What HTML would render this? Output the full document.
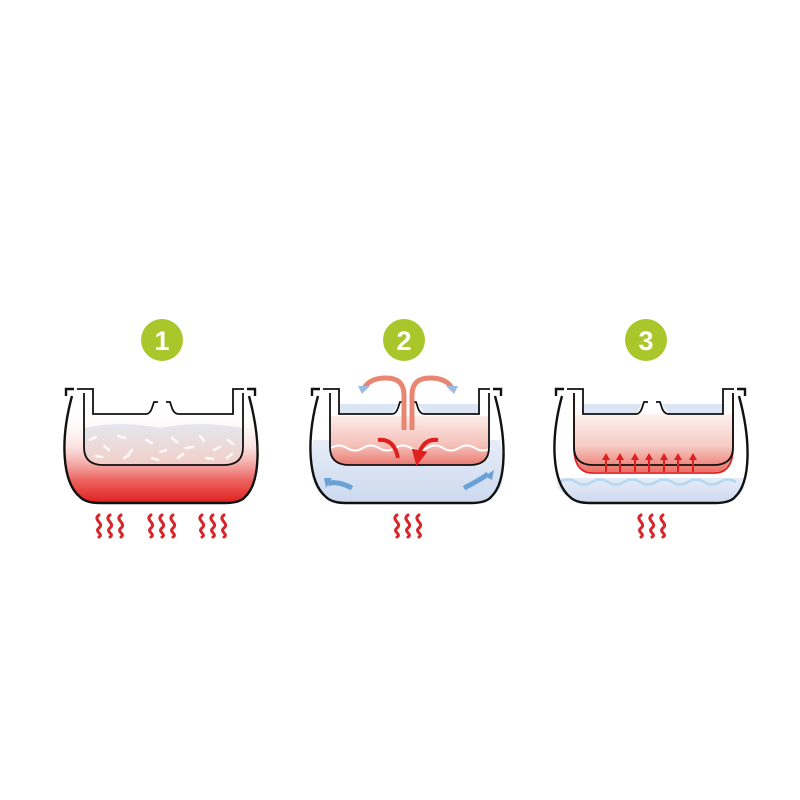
<!DOCTYPE html>
<html><head><meta charset="utf-8"><style>html,body{margin:0;padding:0;background:#fff}svg{display:block}</style></head>
<body>
<svg width="800" height="800" viewBox="0 0 800 800" xmlns="http://www.w3.org/2000/svg">
<defs>
<linearGradient id="heat1" x1="0" y1="0" x2="0" y2="1">
<stop offset="0" stop-color="#fff" stop-opacity="0"/>
<stop offset="0.4" stop-color="#f8d4d2" stop-opacity="0.7"/>
<stop offset="0.75" stop-color="#ec6560"/>
<stop offset="1" stop-color="#e0201f"/>
</linearGradient>
<linearGradient id="rice1" x1="0" y1="0" x2="0" y2="1">
<stop offset="0" stop-color="#e4e7f0"/>
<stop offset="1" stop-color="#f2cfc8"/>
</linearGradient>
<linearGradient id="riceRed" x1="0" y1="0" x2="0" y2="1">
<stop offset="0" stop-color="#fcece8"/>
<stop offset="0.6" stop-color="#f4c0b8"/>
<stop offset="1" stop-color="#ea7a72"/>
</linearGradient>
<linearGradient id="riceRed3" x1="0" y1="0" x2="0" y2="1">
<stop offset="0" stop-color="#fdf2f0"/>
<stop offset="0.55" stop-color="#f6cbc4"/>
<stop offset="1" stop-color="#ec6f66"/>
</linearGradient>
<linearGradient id="blue" x1="0" y1="0" x2="0" y2="1">
<stop offset="0" stop-color="#e6edf8"/>
<stop offset="1" stop-color="#ccd9ef"/>
</linearGradient>
<g id="pot">
<path d="M66,396 L66,389 L74,389 M72,396 C60,440 62,482 80,497 Q86,503 100,503 L225,503 Q240,503 245,497 C261,482 261,440 249,396 M255,396 L255,389 L247,389" fill="none" stroke="#111" stroke-width="2.4"/>
<path d="M77,389 L93,389 L93,414 L146,414 Q150,414 152,408 L154,402 L158,402 M166,402 L170,402 L172,408 Q174,414 179,414 L233,414 L233,389 L244,389" fill="none" stroke="#111" stroke-width="1.8"/>
<path d="M84,393 L84,447 Q84,465 103,465 L224,465 Q243,465 243,447 L243,393" fill="none" stroke="#111" stroke-width="1.8"/>
</g>
<g id="waves" fill="none" stroke="#d6262a" stroke-width="3" stroke-linecap="round">
<path d="M2,515 c-7,5 6,8 0,13 c-5,4 5,6 0,9"/>
<path d="M13,515 c-7,5 6,8 0,13 c-5,4 5,6 0,9"/>
<path d="M24,515 c-7,5 6,8 0,13 c-5,4 5,6 0,9"/>
</g>
<marker id="ar" markerWidth="4" markerHeight="4" refX="2" refY="2" orient="auto"><path d="M0,0 L4,2 L0,4z" fill="#e0201f"/></marker>
</defs>

<g fill="#a9c72b"><circle cx="162" cy="340" r="21"/><circle cx="404" cy="340" r="21"/><circle cx="646" cy="340" r="21"/></g>
<g fill="#fff" font-family="Liberation Sans, sans-serif" font-weight="bold" font-size="27" text-anchor="middle">
<text x="162" y="350">1</text><text x="404" y="350">2</text><text x="646" y="350">3</text></g>

<!-- pot 1 -->
<path d="M68,410 C62,450 64,485 80,497 Q86,503 100,503 L225,503 Q240,503 245,497 C259,485 260,450 253,410 Z" fill="url(#heat1)"/>
<path d="M85,428 Q120,420 160,428 Q200,420 242,428 L242,447 Q242,464 224,464 L103,464 Q85,464 85,447Z" fill="url(#rice1)"/>
<path d="M90,440 l6,-3 M104,446 l5,4 M118,436 l7,2 M132,450 l-4,5 M146,440 l6,3 M160,452 l6,-2 M172,438 l5,4 M186,448 l7,-1 M200,436 l4,5 M214,450 l6,-3 M228,440 l5,4 M96,456 l6,1 M124,458 l5,-3 M152,458 l6,2 M178,458 l5,-4 M206,458 l7,1 M232,454 l-5,4" stroke="#fff" stroke-width="2.5" stroke-linecap="round" opacity="0.85"/>
<use href="#pot"/>
<use href="#waves" x="97"/><use href="#waves" x="149"/><use href="#waves" x="200"/>

<!-- pot 2 -->
<g transform="translate(246,0)">
<path d="M67,440 C62,470 66,490 80,497 Q86,503 100,503 L225,503 Q240,503 245,497 C259,490 260,470 254,440 Z" fill="url(#blue)"/>
<path d="M94,397 L94,414 L146,414 L152,404 L94,404Z M233,397 L233,414 L179,414 L172,404 L233,404Z" fill="#dce5f3"/>
<path d="M85,416 L242,416 L242,447 Q242,465 224,465 L103,465 Q85,465 85,447Z" fill="url(#riceRed)"/>
<path d="M85,448 q8,-5 16,0 t16,0 t16,0 t16,0 t16,0 t16,0 t16,0 t16,0 t16,0 t16,0" fill="none" stroke="#fff" stroke-width="2"/>
<use href="#pot"/>
<path d="M158,430 L158,395 Q158,378 140,378 Q124,378 118,388" fill="none" stroke="#e98672" stroke-width="5"/>
<path d="M166,430 L166,395 Q166,378 184,378 Q200,378 206,388" fill="none" stroke="#e98672" stroke-width="5"/>
<path d="M112,386 l12,0 l-8,8z M212,386 l-12,0 l8,8z" fill="#9dbbe0"/>
<path d="M132,440 Q148,438 152,458 M192,440 Q176,438 172,458" fill="none" stroke="#e0201f" stroke-width="4" marker-end="url(#ar)"/>
<path d="M106,488 Q90,480 82,484 M218,488 Q234,480 242,474" fill="none" stroke="#6aa2d8" stroke-width="5"/>
<path d="M78,478 l8,0 l-6,10z M248,470 l-2,10 l-7,-4z" fill="#6aa2d8"/>
<use href="#waves" x="149"/>
</g>

<!-- pot 3 -->
<g transform="translate(490,0)">
<path d="M67,478 C66,488 72,494 80,497 Q86,503 100,503 L225,503 Q240,503 245,497 C253,494 256,488 254,478 Z" fill="url(#blue)"/>
<path d="M70,482 q8,-5 16,0 t16,0 t16,0 t16,0 t16,0 t16,0 t16,0 t16,0 t16,0 t16,0 t16,0" fill="none" stroke="#b5d6ee" stroke-width="2.5"/>
<path d="M94,397 L94,414 L146,414 L152,404 L94,404Z M233,397 L233,414 L179,414 L172,404 L233,404Z" fill="#dce5f3"/>
<path d="M85,414 L242,414 L242,447 Q242,472 224,472 L103,472 Q85,472 85,447Z" fill="url(#riceRed3)"/>
<path d="M84,393 L84,447 Q84,473 103,473 L224,473 Q243,473 243,447 L243,393" fill="none" stroke="#e0201f" stroke-width="1.8"/>
<use href="#pot"/>
<g stroke="#e0201f" stroke-width="2" fill="none">
<path d="M116,472 V458 M130,472 V458 M145,472 V458 M159,472 V458 M174,472 V458 M188,472 V458 M203,472 V458"/></g>
<g fill="#e0201f"><path d="M112,460 l4,-7 l4,7z M126,460 l4,-7 l4,7z M141,460 l4,-7 l4,7z M155,460 l4,-7 l4,7z M170,460 l4,-7 l4,7z M184,460 l4,-7 l4,7z M199,460 l4,-7 l4,7z"/></g>
<use href="#waves" x="149"/>
</g>
</svg>
</body></html>
